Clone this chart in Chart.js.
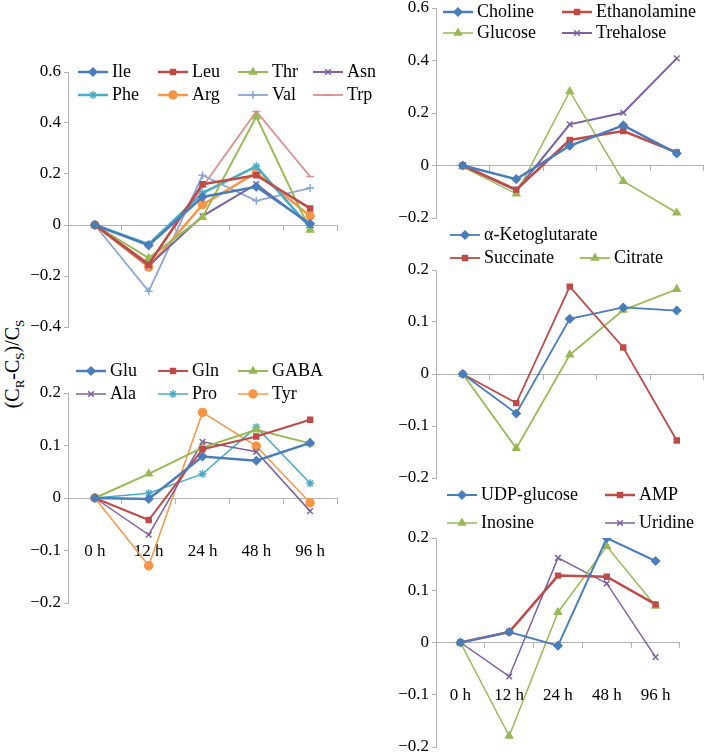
<!DOCTYPE html>
<html>
<head>
<meta charset="utf-8">
<script src="https://cdn.jsdelivr.net/npm/chart.js@4"></script>
<style>
  body { margin: 0; background: #fff; width: 709px; height: 756px; position: relative; overflow: hidden; font-family: "Liberation Serif", serif; }
  canvas { position: absolute; }
  #ytitle { position: absolute; left: 14px; top: 364px; transform: translate(-50%, -50%) rotate(-90deg); font-size: 20px; white-space: nowrap; }
  #ytitle sub { font-size: 13px; }
</style>
</head>
<body>
<div id="ytitle">(C<sub>R</sub>-C<sub>S</sub>)/C<sub>S</sub></div>
<script>
// time points
const timeLabels = ['0 h', '12 h', '24 h', '48 h', '96 h'];

// amino acids (top left)
const ile = [0, -0.08, 0.11, 0.15, 0.005];
const leu = [0, -0.155, 0.16, 0.195, 0.065];
const thr = [0, -0.13, 0.03, 0.425, -0.02];
const asn = [0, -0.16, 0.035, 0.16, 0.0];
const phe = [0, -0.075, 0.125, 0.23, -0.01];
const arg = [0, -0.165, 0.08, 0.205, 0.035];
const val = [0, -0.26, 0.195, 0.095, 0.145];
const trp = [0, -0.15, 0.15, 0.445, 0.19];

// amino acids (bottom left)
const glu = [0, -0.002, 0.079, 0.071, 0.105];
const gln = [0, -0.042, 0.093, 0.117, 0.149];
const gaba = [0, 0.046, 0.096, 0.13, 0.104];
const ala = [0, -0.07, 0.107, 0.088, -0.025];
const pro = [0, 0.009, 0.046, 0.135, 0.028];
const tyr = [0, -0.129, 0.163, 0.099, -0.009];

// right top
const choline = [0, -0.052, 0.075, 0.153, 0.046];
const ethanolamine = [0, -0.092, 0.097, 0.131, 0.05];
const glucose = [-0.005, -0.108, 0.282, -0.06, -0.18];
const trehalose = [0, -0.095, 0.157, 0.201, 0.408];

// right middle
const ketoglutarate = [0, -0.076, 0.106, 0.128, 0.122];
const succinate = [0, -0.056, 0.168, 0.051, -0.128];
const citrate = [0, -0.143, 0.037, 0.123, 0.163];

// right bottom
const udpGlucose = [0, 0.02, -0.006, 0.2, 0.156];
const amp = [0, 0.02, 0.128, 0.126, 0.073];
const inosine = [0, -0.179, 0.058, 0.184, 0.07];
const uridine = [0, -0.065, 0.162, 0.113, -0.028];

const FONT = '"Liberation Serif"';
const AXIS = '#b3b3b3';
const BLUE = '#4A7EBB', RED = '#BE4B48', GREEN = '#98B954', PURPLE = '#7D60A0',
      TEAL = '#4BACC6', ORANGE = '#F79646', LIGHTBLUE = '#8AA5D6', PINK = '#DE8E92';

// legend drawn inside the plot, like the excel one
const gridLegend = {
  id: 'gridLegend',
  afterDatasetsDraw(chart, args, opts) {
    const ctx = chart.ctx;
    const pos = opts.positions || [];
    chart.data.datasets.forEach((ds, i) => {
      const p = pos[i];
      if (!p) return;
      const x = p[0] - opts.originX, y = p[1] - opts.originY;
      ctx.save();
      ctx.strokeStyle = ds.borderColor;
      ctx.fillStyle = ds.borderColor;
      ctx.lineWidth = ds.borderWidth;
      ctx.beginPath();
      ctx.moveTo(x, y);
      ctx.lineTo(x + 30, y);
      ctx.stroke();
      ctx.lineWidth = ds.pointBorderWidth;
      Chart.helpers.drawPoint(ctx, {pointStyle: ds.pointStyle, radius: ds.pointRadius, rotation: 0, borderWidth: ds.pointBorderWidth}, x + 15, y);
      ctx.fillStyle = '#000';
      ctx.font = '18px ' + FONT;
      ctx.textBaseline = 'middle';
      ctx.textAlign = 'left';
      ctx.fillText(ds.label, x + 34, y);
      ctx.restore();
    });
  }
};

function fmt(v) {
  const r = Math.round(v * 10) / 10;
  if (r === 0) return '0';
  return (r < 0 ? '\u2212' : '') + Math.abs(r).toFixed(1);
}

function series(label, data, color, style, width) {
  return {
    label: label, data: data, borderColor: color, backgroundColor: color,
    borderWidth: width, pointStyle: style, pointRadius: style === 'rect' ? 3.5 : 4,
    pointBackgroundColor: color, pointBorderColor: color, pointBorderWidth: 1.5,
    tension: 0, fill: false
  };
}

const panels = [
  { area: [68, 72, 337, 327], min: -0.4, max: 0.6, step: 0.2, showX: false, padR: 45,
    legend: [[78, 72], [158, 72], [238, 72], [313, 72], [78, 95], [158, 95], [238, 95], [313, 95]],
    series: [
      series('Ile', ile, BLUE, 'rectRot', 2.5),
      series('Leu', leu, RED, 'rect', 2.5),
      series('Thr', thr, GREEN, 'triangle', 2),
      series('Asn', asn, PURPLE, 'crossRot', 2),
      series('Phe', phe, TEAL, 'star', 2.5),
      series('Arg', arg, ORANGE, 'circle', 2.5),
      series('Val', val, LIGHTBLUE, 'cross', 1.8),
      series('Trp', trp, PINK, 'line', 1.8)
    ] },
  { area: [68, 393, 337, 603], min: -0.2, max: 0.2, step: 0.1, showX: true, padR: 45,
    legend: [[76, 371], [158, 371], [238, 371], [76, 394], [158, 394], [238, 394]],
    series: [
      series('Glu', glu, BLUE, 'rectRot', 2.5),
      series('Gln', gln, RED, 'rect', 2),
      series('GABA', gaba, GREEN, 'triangle', 2),
      series('Ala', ala, PURPLE, 'crossRot', 1.5),
      series('Pro', pro, TEAL, 'star', 1.5),
      series('Tyr', tyr, ORANGE, 'circle', 1.5)
    ] },
  { area: [436, 8, 706, 218], min: -0.2, max: 0.6, step: 0.2, showX: false, padR: 3,
    legend: [[443, 12], [562, 12], [443, 33], [562, 33]],
    series: [
      series('Choline', choline, BLUE, 'rectRot', 2.5),
      series('Ethanolamine', ethanolamine, RED, 'rect', 2.5),
      series('Glucose', glucose, GREEN, 'triangle', 1.5),
      series('Trehalose', trehalose, PURPLE, 'crossRot', 2)
    ] },
  { area: [436, 270, 706, 478], min: -0.2, max: 0.2, step: 0.1, showX: false, padR: 3,
    legend: [[450, 235], [450, 258], [580, 258]],
    series: [
      series('\u03b1-Ketoglutarate', ketoglutarate, BLUE, 'rectRot', 1.8),
      series('Succinate', succinate, RED, 'rect', 1.8),
      series('Citrate', citrate, GREEN, 'triangle', 1.8)
    ] },
  { area: [436, 538, 706, 747], min: -0.2, max: 0.2, step: 0.1, showX: true, padR: 3,
    legend: [[447, 495], [605, 495], [447, 523], [605, 523]],
    series: [
      series('UDP-glucose', udpGlucose, BLUE, 'rectRot', 2),
      series('AMP', amp, RED, 'rect', 2.5),
      series('Inosine', inosine, GREEN, 'triangle', 1.5),
      series('Uridine', uridine, PURPLE, 'crossRot', 1.5)
    ] }
];

function makePanel(p) {
  const padT = 60, padB = 14, yw = 60;
  const w = yw + (p.area[2] - p.area[0]) + p.padR;
  const h = padT + (p.area[3] - p.area[1]) + padB;
  const left = p.area[0] - yw, top = p.area[1] - padT;
  const cv = document.createElement('canvas');
  cv.width = w; cv.height = h;
  cv.style.width = w + 'px'; cv.style.height = h + 'px';
  cv.style.left = left + 'px'; cv.style.top = top + 'px';
  document.body.appendChild(cv);

  new Chart(cv, {
    type: 'line',
    data: { labels: timeLabels, datasets: p.series },
    plugins: [gridLegend],
    options: {
      responsive: false,
      animation: false,
      devicePixelRatio: 1,
      layout: { padding: { left: 0, top: padT, right: p.padR, bottom: padB } },
      plugins: {
        legend: { display: false },
        tooltip: { enabled: false },
        gridLegend: { positions: p.legend, originX: left, originY: top }
      },
      scales: {
        x: {
          type: 'category', offset: true, position: { y: 0 },
          grid: { drawOnChartArea: false, offset: true, tickLength: 5, color: AXIS },
          border: { color: AXIS, width: 1 },
          ticks: { display: p.showX, padding: 38, color: '#000', maxRotation: 0, autoSkip: false,
                   font: { family: FONT, size: 17 } }
        },
        y: {
          min: p.min, max: p.max,
          grid: { drawOnChartArea: false, tickLength: 4, color: AXIS },
          border: { color: AXIS, width: 1 },
          ticks: { stepSize: p.step, padding: 3, color: '#000', font: { family: FONT, size: 17 }, callback: fmt },
          afterFit: function(s) { s.width = yw; }
        }
      }
    }
  });
}

Chart.defaults.font.family = FONT;
document.fonts.load('18px "Liberation Serif"').then(function() {
  panels.forEach(makePanel);
}, function() {
  panels.forEach(makePanel);
});
</script>
</body>
</html>
